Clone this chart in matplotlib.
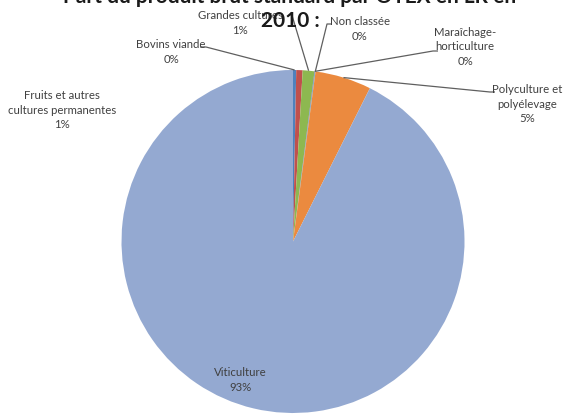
import matplotlib
matplotlib.use("Agg")
import matplotlib.pyplot as plt
import numpy as np

# Share of standard gross output by farm type (OTEX), 2010
categories = [
    "Bovins viande",
    "Fruits et autres\ncultures permanentes",
    "Grandes cultures",
    "Maraîchage-\nhorticulture",
    "Non classée",
    "Polyculture et\npolyélevage",
    "Viticulture",
]
values = [0.3, 0.6, 1.1, 0.05, 0.05, 5.3, 92.6]
colors = ["#4F81BD", "#C0504D", "#8DB850", "#8064A2", "#4BACC6", "#EB8A3F", "#94A9D1"]

W, H = 564, 415
fig = plt.figure(figsize=(W / 100, H / 100), dpi=100)
ax = fig.add_axes([0, 0, 1, 1])

FONT = "Lato"
TXT = "#404040"

def Y(py):
    return H - py

cx, cy, r = 293, Y(241.5), 171.5
wedges, _ = ax.pie(values, colors=colors, startangle=90, counterclock=False,
                   center=(cx, cy), radius=r, frame=True,
                   wedgeprops=dict(linewidth=0))
ax.set_xlim(0, W)
ax.set_ylim(0, H)
ax.set_aspect("equal")
ax.axis("off")

total = sum(values)
pcts = [f"{round(v / total * 100)}%" for v in values]

def edge_point(i):
    w = wedges[i]
    a = np.deg2rad((w.theta1 + w.theta2) / 2)
    return cx + r * np.cos(a), cy + r * np.sin(a)

# label positions (centre of the text block) and leader line start points
label_pos = {
    0: (171, 52),
    1: (62, 110),
    2: (240, 23),
    3: (465, 47),
    4: (360, 29),
    5: (527, 104),
    6: (240, 380),
}
leader_start = {
    0: [(206, 47), (200, 47)],
    2: [(291, 12)],
    3: [(433, 51), (438, 51)],
    4: [(327, 24), (332, 24)],
    5: [(490, 92), (495, 92)],
}

for i, (lx, ly) in label_pos.items():
    ax.text(lx, Y(ly), categories[i] + "\n" + pcts[i],
            ha="center", va="center", fontsize=8.2, family=FONT,
            color=TXT, linespacing=1.38, zorder=4)

for i, pts in leader_start.items():
    ex, ey = edge_point(i)
    xs = [p[0] for p in pts[::-1]] + [ex]
    ys = [Y(p[1]) for p in pts[::-1]] + [ey]
    ax.plot(xs, ys, color="#5F5F5F", lw=0.9, zorder=3, solid_capstyle="butt")

# title (first line runs off the top edge)
ax.text(290, Y(-3), "Part du produit brut standard par OTEX en LR en",
        ha="center", va="center", fontsize=15, fontweight="bold",
        family=FONT, color="#1a1a1a", zorder=5)
ax.text(290, Y(21), "2010 :", ha="center", va="center", fontsize=15,
        fontweight="bold", family=FONT, color="#1a1a1a", zorder=5)

fig.savefig("out.png", dpi=100)
